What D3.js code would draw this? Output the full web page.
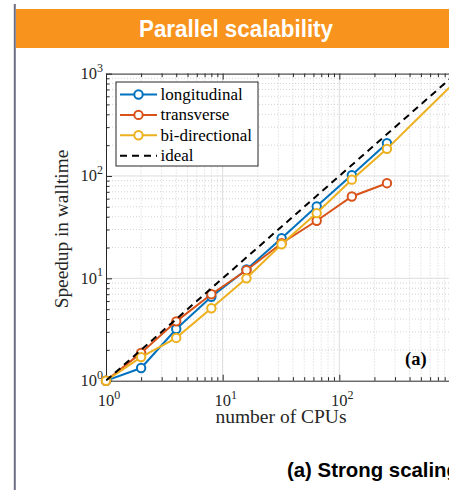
<!DOCTYPE html>
<html><head><meta charset="utf-8">
<script src="https://cdn.jsdelivr.net/npm/d3@7"></script>
<style>body{margin:0;background:#fff}svg{display:block}</style>
</head><body><svg id="c" width="449" height="490"></svg>
<script>
// ---- data ----
const cpus = [1, 2, 4, 8, 16, 32, 64, 128, 256];
const longitudinal = [1, 1.33, 3.2, 6.6, 12.2, 24.7, 50.5, 102, 209];
const transverse = [1, 1.87, 3.8, 7.0, 12.0, 22.0, 36.5, 63, 85];
const biCpus = [1, 2, 4, 8, 16, 32, 64, 128, 256, 512, 1024];
const biDirectional = [1, 1.7, 2.62, 5.1, 10.0, 21.5, 43.4, 92, 184, 400, 870];
const biMarkerCount = 9;
const idealCpus = [1, 1000];
const idealSpeedup = [1, 1000];
const xTicks = [1, 10, 100, 1000];
const yTicks = [1, 10, 100, 1000];
const seriesNames = ["longitudinal", "transverse", "bi-directional", "ideal"];
const seriesColors = ["#0072BD", "#D95319", "#EDB120", "#000000"];

const svg = d3.select("#c");
const serif = "'Liberation Serif','Times New Roman',serif";
const sans = "'Liberation Sans',Arial,sans-serif";

// slide decoration
svg.append("line").attr("x1", 14.8).attr("x2", 14.8).attr("y1", 4).attr("y2", 490)
  .attr("stroke", "#6e6e82").attr("stroke-width", 2);
svg.append("rect").attr("x", 16).attr("y", 9).attr("width", 433).attr("height", 39).attr("fill", "#F8931D");
svg.append("text").attr("x", 139).attr("y", 37)
  .attr("font-family", sans).attr("font-weight", "bold").attr("font-size", 24)
  .attr("textLength", 194).attr("lengthAdjust", "spacingAndGlyphs")
  .attr("fill", "#fff").text("Parallel scalability");

// scales
const L = 106, R = 456, T = 73.6, B = 380.7;
const x = d3.scaleLog().domain([1, 1000]).range([L, R]);
const y = d3.scaleLog().domain([1, 1000]).range([B, T]);

const minors = [];
for (let d = 1; d < 1000; d *= 10) for (let k = 2; k <= 9; k++) minors.push(d * k);

// grid
const g = svg.append("g");
g.selectAll(".mx").data(minors).join("line")
  .attr("x1", d => x(d)).attr("x2", d => x(d)).attr("y1", T).attr("y2", B)
  .attr("stroke", "#c8c8c8").attr("stroke-width", 0.8).attr("stroke-dasharray", "1,2");
g.selectAll(".my").data(minors).join("line")
  .attr("y1", d => y(d)).attr("y2", d => y(d)).attr("x1", L).attr("x2", R)
  .attr("stroke", "#c8c8c8").attr("stroke-width", 0.8).attr("stroke-dasharray", "1,2");
g.selectAll(".Mx").data(xTicks.slice(1, -1)).join("line")
  .attr("x1", d => x(d)).attr("x2", d => x(d)).attr("y1", T).attr("y2", B)
  .attr("stroke", "#dcdcdc").attr("stroke-width", 1);
g.selectAll(".My").data(yTicks.slice(1, -1)).join("line")
  .attr("y1", d => y(d)).attr("y2", d => y(d)).attr("x1", L).attr("x2", R)
  .attr("stroke", "#dcdcdc").attr("stroke-width", 1);

// axes (inward ticks)
const axisColor = "#262626";
function styleAxis(sel) {
  sel.select(".domain").attr("stroke", axisColor);
  sel.selectAll(".tick line").attr("stroke", axisColor);
  sel.selectAll(".tick text").remove();
}
const allTicks = xTicks.concat(minors).sort((a, b) => a - b);
svg.append("g").attr("transform", `translate(0,${B})`)
  .call(d3.axisBottom(x).tickValues(allTicks).tickSizeInner(0).tickSizeOuter(0)).call(styleAxis)
  .selectAll(".tick line").attr("y2", d => xTicks.includes(d) ? -6 : -3.5);
svg.append("g").attr("transform", `translate(0,${T})`)
  .call(d3.axisTop(x).tickValues(allTicks).tickSizeInner(0).tickSizeOuter(0)).call(styleAxis)
  .selectAll(".tick line").attr("y2", d => xTicks.includes(d) ? 6 : 3.5);
svg.append("g").attr("transform", `translate(${L},0)`)
  .call(d3.axisLeft(y).tickValues(allTicks).tickSizeInner(0).tickSizeOuter(0)).call(styleAxis)
  .selectAll(".tick line").attr("x2", d => yTicks.includes(d) ? 6 : 3.5);

// tick labels 10^n
function powLabel(sel, v) {
  const e = Math.round(Math.log10(v));
  sel.append("tspan").text("10");
  sel.append("tspan").attr("font-size", 12).attr("dy", -7.5).text(e);
}
xTicks.forEach(v => {
  const t = svg.append("text").attr("x", x(v) + 3).attr("y", 406).attr("text-anchor", "middle")
    .attr("font-family", serif).attr("font-size", 16.5).attr("fill", axisColor);
  powLabel(t, v);
});
yTicks.forEach(v => {
  const t = svg.append("text").attr("x", L - 3).attr("y", y(v) + 5.5).attr("text-anchor", "end")
    .attr("font-family", serif).attr("font-size", 16.5).attr("fill", axisColor);
  powLabel(t, v);
});

svg.append("text").attr("x", 281).attr("y", 423).attr("text-anchor", "middle")
  .attr("font-family", serif).attr("font-size", 19.5).attr("fill", axisColor).text("number of CPUs");
svg.append("text").attr("transform", "translate(68,229) rotate(-90)").attr("text-anchor", "middle")
  .attr("font-family", serif).attr("font-size", 19.3).attr("fill", axisColor).text("Speedup in walltime");

// clip
svg.append("clipPath").attr("id", "clip").append("rect")
  .attr("x", L).attr("y", T).attr("width", R - L).attr("height", B - T);

const line = d3.line().x(d => x(d[0])).y(d => y(d[1]));
const seriesData = [
  cpus.map((c, i) => [c, longitudinal[i]]),
  cpus.map((c, i) => [c, transverse[i]]),
  biCpus.map((c, i) => [c, biDirectional[i]])
];
seriesData.forEach((pts, k) => {
  svg.append("path").attr("clip-path", "url(#clip)").attr("d", line(pts))
    .attr("fill", "none").attr("stroke", seriesColors[k]).attr("stroke-width", 2);
  const mk = k === 2 ? pts.slice(0, biMarkerCount) : pts;
  svg.append("g").selectAll("circle").data(mk).join("circle")
    .attr("cx", d => x(d[0])).attr("cy", d => y(d[1])).attr("r", 4.2)
    .attr("fill", "#fff").attr("stroke", seriesColors[k]).attr("stroke-width", 2);
});
svg.append("path").attr("clip-path", "url(#clip)")
  .attr("d", line(idealCpus.map((c, i) => [c, idealSpeedup[i]])))
  .attr("fill", "none").attr("stroke", "#000").attr("stroke-width", 2).attr("stroke-dasharray", "7,5");

// (a) label
svg.append("text").attr("x", 405).attr("y", 365).attr("font-family", serif).attr("font-weight", "bold")
  .attr("font-size", 18.5).attr("fill", "#000").text("(a)");

// legend
const lg = svg.append("g");
lg.append("rect").attr("x", 116).attr("y", 82).attr("width", 142).attr("height", 84)
  .attr("fill", "#fff").attr("stroke", axisColor).attr("stroke-width", 1);
seriesNames.forEach((n, i) => {
  const yy = 94.5 + i * 20.4;
  lg.append("line").attr("x1", 120).attr("x2", 157).attr("y1", yy).attr("y2", yy)
    .attr("stroke", seriesColors[i]).attr("stroke-width", 2)
    .attr("stroke-dasharray", i === 3 ? "7,5" : null);
  if (i < 3) lg.append("circle").attr("cx", 138.5).attr("cy", yy).attr("r", 4.2)
    .attr("fill", "#fff").attr("stroke", seriesColors[i]).attr("stroke-width", 2);
  lg.append("text").attr("x", 160.5).attr("y", yy + 5.5).attr("font-family", serif).attr("font-size", 17)
    .attr("fill", "#000").text(n);
});

// caption
svg.append("text").attr("x", 287).attr("y", 477).attr("font-family", sans).attr("font-weight", "bold")
  .attr("font-size", 21).attr("textLength", 172).attr("lengthAdjust", "spacingAndGlyphs")
  .attr("fill", "#000").text("(a) Strong scaling");
</script></body></html>
